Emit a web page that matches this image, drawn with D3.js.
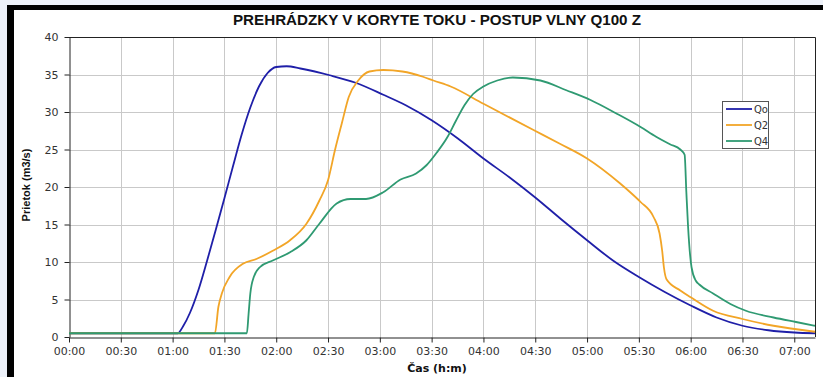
<!DOCTYPE html>
<html>
<head>
<meta charset="utf-8">
<script src="https://cdn.jsdelivr.net/npm/d3@7/dist/d3.min.js"></script>
<style>
  html, body { margin: 0; padding: 0; background: #edf1f9; }
  svg { display: block; }
</style>
</head>
<body>
<svg id="chart" width="823" height="377"></svg>
<script>
// Discharge hydrographs, time in minutes from 00:00, flow in m3/s
const qoData = [
  [0,0.5],[63,0.5],[66,1.4],[70,3.2],[75,6.3],[80,10.2],[85,14.3],[90,18.5],
  [95,22.8],[100,27.0],[105,30.6],[110,33.4],[115,35.2],[120,36.0],[126,36.1],
  [134,35.8],[151,34.9],[166,33.9],[182,32.3],[195,30.9],[210,28.9],[225,26.5],
  [240,23.8],[255,21.3],[270,18.6],[285,15.7],[300,12.9],[315,10.2],[330,8.0],
  [345,6.0],[360,4.2],[375,2.6],[390,1.5],[405,0.9],[420,0.6],[432,0.5]
];
const q2Data = [
  [0,0.5],[84.5,0.5],[86.5,4.0],[88.5,5.8],[93,8.0],[101,9.8],[108.5,10.4],
  [118,11.5],[128,12.9],[137.5,15.1],[145,18.2],[150,20.9],[154,24.9],[158,28.5],
  [162,32.0],[167.5,34.2],[174,35.4],[182,35.6],[193,35.4],[205,34.7],[211,34.2],
  [221,33.4],[240,31.1],[269,27.6],[284,25.8],[300,23.8],[319,20.5],[325,19.3],
  [331,18.0],[338.5,16.0],[342,13.8],[343.5,11.5],[344.5,9.3],[346,7.7],
  [354,6.2],[360,5.3],[373,3.5],[390,2.4],[408,1.5],[432,0.7]
];
const q4Data = [
  [0,0.5],[103,0.5],[104,3.1],[105,5.8],[107,8.0],[110.5,9.3],[118,10.2],
  [128,11.3],[137.5,12.9],[145,15.1],[155,17.8],[163,18.4],[172,18.4],[182,19.3],
  [192,21.0],[201,21.8],[207,22.9],[213,24.6],[219,26.6],[224,28.8],[229,30.9],
  [234,32.4],[240,33.4],[248,34.2],[257,34.6],[273,34.2],[288,32.9],[302,31.6],
  [317,29.8],[331,28.0],[340,26.7],[348,25.7],[354,25.0],[356.5,24.3],
  [357.5,19.3],[358.5,14.7],[360.5,9.3],[363,7.5],[365,7.0],[373,5.8],[383,4.4],
  [392,3.5],[408,2.6],[421,2.0],[432,1.5]
];

const seriesNames = ["Qo", "Q2", "Q4"];
const seriesColors = ["#1f1fa8", "#f2a527", "#2f9a72"];
const seriesData = [qoData, q2Data, q4Data];

const xTicks = d3.range(0, 421, 30);       // every 30 minutes, 00:00 .. 07:00
const yTicks = d3.range(0, 41, 5);

const titleText = "PREHRÁDZKY V KORYTE TOKU - POSTUP VLNY Q100 Z";
const yTitle = "Prietok (m3/s)";
const xTitle = "Čas (h:m)";

const svg = d3.select("#chart");
const W = 823, H = 377;

// frame of the sheet
svg.append("rect").attr("width", W).attr("height", H).attr("fill", "#edf1f9");
svg.append("rect").attr("x", 7).attr("y", 5).attr("width", W - 7).attr("height", H - 5).attr("fill", "#000");
svg.append("rect").attr("x", 14).attr("y", 10).attr("width", W - 14).attr("height", H - 10).attr("fill", "#fff");

const x = d3.scaleLinear().domain([0, 432]).range([69, 815]);
const y = d3.scaleLinear().domain([0, 40]).range([337, 37]);

const fmt = m => String(Math.floor(m / 60)).padStart(2, "0") + ":" + String(m % 60).padStart(2, "0");

// grid
const grid = svg.append("g").attr("stroke", "#c9c9c9").attr("stroke-width", 1);
grid.selectAll(".gx").data(xTicks.filter(t => t > 0)).join("line")
  .attr("x1", d => Math.round(x(d)) + 0.5).attr("x2", d => Math.round(x(d)) + 0.5)
  .attr("y1", y(40)).attr("y2", y(0));
grid.selectAll(".gy").data(yTicks.filter(t => t > 0 && t < 40)).join("line")
  .attr("x1", x(0)).attr("x2", x(432))
  .attr("y1", d => Math.round(y(d)) + 0.5).attr("y2", d => Math.round(y(d)) + 0.5);

// plot frame (top and right)
svg.append("path")
  .attr("d", `M${x(0)},${Math.round(y(40)) + 0.5}H${Math.round(x(432)) + 0.5}V${y(0)}`)
  .attr("fill", "none").attr("stroke", "#222").attr("stroke-width", 1);

// axes
const xAxis = svg.append("g").attr("transform", `translate(0,${Math.round(y(0)) + 0.5})`)
  .call(d3.axisBottom(x).tickValues(xTicks).tickFormat(fmt).tickSize(5).tickSizeOuter(0).tickPadding(5));
const yAxis = svg.append("g").attr("transform", `translate(${Math.round(x(0)) + 0.5},0)`)
  .call(d3.axisLeft(y).tickValues(yTicks).tickSize(5).tickSizeOuter(0).tickPadding(6));
[xAxis, yAxis].forEach(a => {
  a.select(".domain").attr("stroke", "#222");
  a.selectAll(".tick line").attr("stroke", "#222");
  a.selectAll(".tick text").attr("fill", "#333")
    .style("font-family", "'DejaVu Sans', Verdana, sans-serif").style("font-size", "11px");
});

// series
const line = d3.line().x(d => x(d[0])).y(d => y(d[1])).curve(d3.curveMonotoneX);
seriesData.forEach((data, i) => {
  svg.append("path").datum(data)
    .attr("fill", "none").attr("stroke", seriesColors[i]).attr("stroke-width", 1.8)
    .attr("stroke-linejoin", "round").attr("d", line);
});

// titles
svg.append("text").attr("x", 437).attr("y", 24.5).attr("text-anchor", "middle")
  .attr("textLength", 408).attr("lengthAdjust", "spacingAndGlyphs")
  .style("font-family", "'Liberation Sans', Arial, sans-serif").style("font-weight", "bold")
  .style("font-size", "14px").attr("fill", "#111").text(titleText);
svg.append("text").attr("transform", "translate(30,185) rotate(-90)").attr("text-anchor", "middle")
  .style("font-family", "'Liberation Sans', Arial, sans-serif").style("font-weight", "bold")
  .style("font-size", "11px").attr("fill", "#111").text(yTitle);
svg.append("text").attr("x", 437).attr("y", 372).attr("text-anchor", "middle")
  .style("font-family", "'DejaVu Sans', Verdana, sans-serif").style("font-weight", "bold")
  .style("font-size", "11px").attr("fill", "#111").text(xTitle);

// legend
const lg = svg.append("g");
lg.append("rect").attr("x", 722.5).attr("y", 101.5).attr("width", 46).attr("height", 47)
  .attr("fill", "#fff").attr("stroke", "#555");
seriesNames.forEach((n, i) => {
  const yy = 109 + i * 16;
  lg.append("line").attr("x1", 726).attr("x2", 752).attr("y1", yy).attr("y2", yy)
    .attr("stroke", seriesColors[i]).attr("stroke-width", 1.8);
  lg.append("text").attr("x", 754).attr("y", yy + 3.5)
    .style("font-family", "'DejaVu Sans', Verdana, sans-serif").style("font-size", "10px")
    .attr("fill", "#333").text(n);
});
</script>
</body>
</html>
